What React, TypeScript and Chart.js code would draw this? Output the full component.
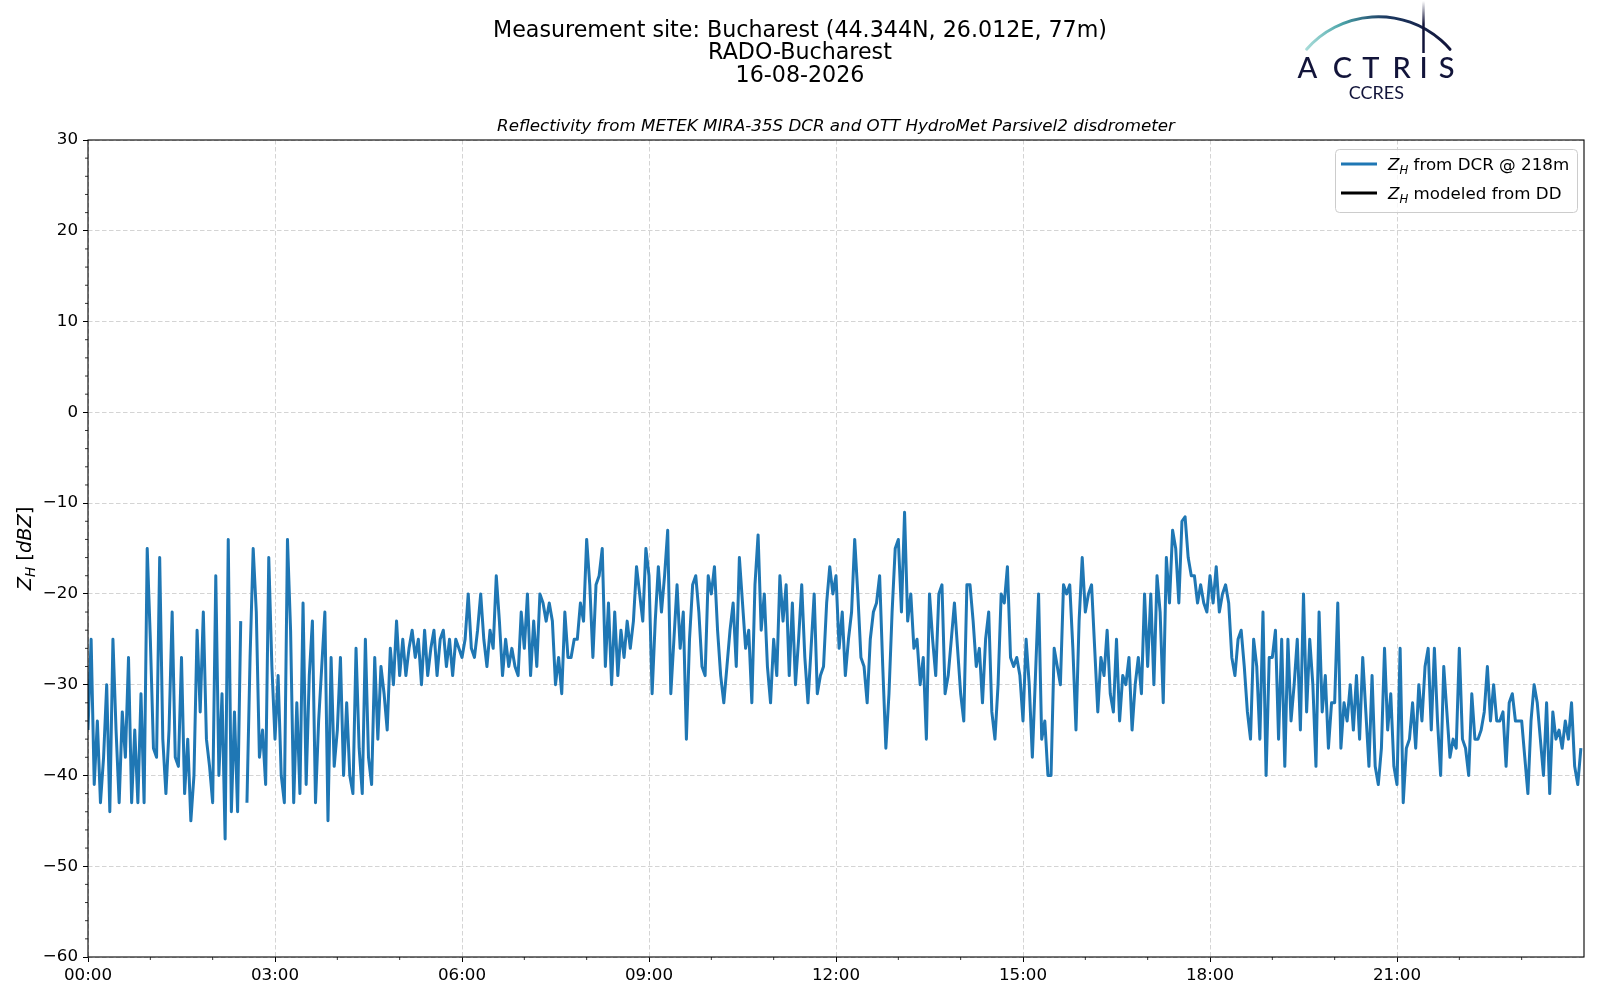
import { useEffect, useRef } from 'react';
import Chart from 'chart.js/auto';

// ---- text ----
const titleLines = [
  'Measurement site: Bucharest (44.344N, 26.012E, 77m)',
  'RADO-Bucharest',
  '16-08-2026',
];
const subtitle = 'Reflectivity from METEK MIRA-35S DCR and OTT HydroMet Parsivel2 disdrometer';
const seriesNames = ['from DCR @ 218m', 'modeled from DD'];
const seriesColors = ['#1f77b4', '#000000'];

// ---- axes ----
const xMajorHours = [0, 3, 6, 9, 12, 15, 18, 21];
const yMajorTicks = [-60, -50, -40, -30, -20, -10, 0, 10, 20, 30];
const stepMinutes = 3;

// ---- Z_H from DCR, one array per hour, a value every 3 minutes (dBZ) ----
const zh00 = [-35, -25, -41, -34, -43, -38, -30, -44, -25, -35, -43, -33, -38, -27, -43, -35, -43, -31, -43, -15];
const zh01 = [-25, -37, -38, -16, -36, -42, -35, -22, -38, -39, -27, -42, -36, -45, -40, -24, -33, -22, -36, -39];
const zh02 = [-43, -18, -40, -31, -47, -14, -44, -33, -44, -23, null, -43, -27, -15, -22, -38, -35, -41, -16, -28];
const zh03 = [-36, -29, -40, -43, -14, -24, -43, -32, -42, -21, -41, -29, -23, -43, -34, -28, -22, -45, -27, -39];
const zh04 = [-35, -27, -40, -32, -40, -42, -26, -37, -42, -25, -38, -41, -27, -36, -28, -31, -35, -26, -30, -23];
const zh05 = [-29, -25, -29, -26, -24, -27, -25, -30, -24, -29, -26, -24, -29, -25, -24, -28, -25, -29, -25, -26];
const zh06 = [-27, -25, -20, -26, -27, -24, -20, -25, -28, -24, -26, -18, -23, -29, -25, -28, -26, -28, -29, -22];
const zh07 = [-26, -20, -29, -23, -28, -20, -21, -23, -21, -23, -30, -27, -31, -22, -27, -27, -25, -25, -21, -23];
const zh08 = [-14, -19, -27, -19, -18, -15, -28, -21, -30, -22, -29, -24, -27, -23, -26, -23, -17, -20, -23, -15];
const zh09 = [-18, -31, -23, -17, -22, -18, -13, -31, -25, -19, -26, -22, -36, -25, -19, -18, -22, -28, -29, -18];
const zh10 = [-20, -17, -24, -29, -32, -28, -24, -21, -28, -16, -21, -26, -24, -32, -19, -13.5, -24, -20, -28, -32];
const zh11 = [-25, -29, -18, -23, -19, -29, -21, -30, -25, -19, -27, -32, -26, -20, -31, -29, -28, -21, -17, -20];
const zh12 = [-18, -26, -22, -29, -25, -22, -14, -20, -27, -28, -32, -25, -22, -21, -18, -28, -37, -31, -22, -15];
const zh13 = [-14, -22, -11, -23, -20, -26, -25, -30, -27, -36, -20, -25, -29, -20, -19, -31, -29, -25, -21, -26];
const zh14 = [-31, -34, -19, -19, -23, -28, -26, -32, -25, -22, -33, -36, -30, -20, -21, -17, -27, -28, -27, -29];
const zh15 = [-34, -25, -30, -38, -29, -20, -36, -34, -40, -40, -26, -28, -30, -19, -20, -19, -26, -35, -23, -16];
const zh16 = [-22, -20, -19, -26, -33, -27, -29, -24, -31, -33, -25, -34, -29, -30, -27, -35, -30, -27, -31, -20];
const zh17 = [-28, -20, -30, -18, -22, -32, -16, -21, -13, -15, -21, -12, -11.5, -16, -18, -18, -21, -19, -21, -22];
const zh18 = [-18, -21, -17, -22, -20, -19, -21, -27, -29, -25, -24, -28, -33, -36, -25, -28, -36, -22, -40, -27];
const zh19 = [-27, -24, -36, -25, -39, -25, -34, -30, -25, -35, -20, -33, -25, -30, -39, -22, -33, -29, -37, -32];
const zh20 = [-32, -21, -37, -32, -34, -30, -35, -29, -36, -27, -33, -39, -29, -39, -41, -37, -26, -35, -31, -39];
const zh21 = [-41, -26, -43, -37, -36, -32, -37, -30, -34, -28, -26, -35, -26, -34, -40, -28, -33, -38, -36, -37];
const zh22 = [-26, -36, -37, -40, -31, -36, -36, -35, -33, -28, -34, -30, -34, -34, -33, -39, -32, -31, -34, -34];
const zh23 = [-34, -38, -42, -34, -30, -32, -36, -40, -32, -42, -33, -36, -35, -37, -34, -36, -32, -39, -41, -37];

const zhDcr = [
  zh00, zh01, zh02, zh03, zh04, zh05, zh06, zh07, zh08, zh09, zh10, zh11,
  zh12, zh13, zh14, zh15, zh16, zh17, zh18, zh19, zh20, zh21, zh22, zh23,
].flat();

const FONT = '"DejaVu Sans", sans-serif';
const TICK_SIZE = 16.7;

type Run = { text: string; italic?: boolean; sub?: boolean };

function runFont(r: Run, size: number) {
  const s = r.sub ? size * 0.7 : size;
  return `${r.italic ? 'italic ' : ''}${s}px ${FONT}`;
}

function runsWidth(ctx: CanvasRenderingContext2D, runs: Run[], size: number) {
  let w = 0;
  for (const r of runs) {
    ctx.font = runFont(r, size);
    w += ctx.measureText(r.text).width;
  }
  return w;
}

function drawRuns(ctx: CanvasRenderingContext2D, runs: Run[], x: number, y: number, size: number) {
  let cx = x;
  ctx.textAlign = 'left';
  ctx.textBaseline = 'alphabetic';
  for (const r of runs) {
    ctx.font = runFont(r, size);
    ctx.fillText(r.text, cx, r.sub ? y + size * 0.22 : y);
    cx += ctx.measureText(r.text).width;
  }
}

const zhRuns = (rest: string): Run[] => [
  { text: 'Z', italic: true },
  { text: 'H', italic: true, sub: true },
  { text: ' ' + rest },
];

function drawLogo(ctx: CanvasRenderingContext2D) {
  const navy = '#12143a';
  // arc
  const cx = 1378.3, cy = 111.9, r = 95.2;
  const a0 = Math.atan2(49.3 - cy, 1306.7 - cx);
  const a1 = Math.atan2(49.3 - cy, 1450 - cx);
  const g = ctx.createLinearGradient(1306, 0, 1450, 0);
  g.addColorStop(0, 'rgba(108,195,190,0.6)');
  g.addColorStop(0.25, '#4aa3a8');
  g.addColorStop(0.55, '#1d3a62');
  g.addColorStop(1, navy);
  ctx.strokeStyle = g;
  ctx.lineWidth = 3;
  ctx.lineCap = 'round';
  ctx.beginPath();
  ctx.arc(cx, cy, r, a0, a1);
  ctx.stroke();
  // mast
  const gv = ctx.createLinearGradient(0, 1, 0, 24);
  gv.addColorStop(0, 'rgba(18,20,58,0)');
  gv.addColorStop(1, navy);
  ctx.strokeStyle = gv;
  ctx.lineWidth = 2.5;
  ctx.lineCap = 'butt';
  ctx.beginPath();
  ctx.moveTo(1423.5, 1);
  ctx.lineTo(1423.5, 53);
  ctx.stroke();
  // letters
  ctx.fillStyle = navy;
  ctx.textAlign = 'center';
  ctx.textBaseline = 'alphabetic';
  ctx.font = '500 29px Lato, sans-serif';
  const letters = ['A', 'C', 'T', 'R', 'I', 'S'];
  const centers = [1307.5, 1342.5, 1370.8, 1401.7, 1423.7, 1446.7];
  letters.forEach((l, i) => ctx.fillText(l, centers[i], 78.3));
  ctx.font = '18px Lato, sans-serif';
  ctx.fillText('CCRES', 1376.3, 99);
}

const chromePlugin = {
  id: 'chrome',
  afterDraw(chart: any) {
    const { ctx, chartArea: a, scales } = chart;
    ctx.save();

    // frame on all four sides
    ctx.strokeStyle = '#000';
    ctx.lineWidth = 1.1;
    ctx.strokeRect(a.left, a.top, a.right - a.left, a.bottom - a.top);

    // minor ticks
    ctx.lineWidth = 0.8;
    ctx.beginPath();
    for (let v = -60; v <= 30; v += 2) {
      if (v % 10 === 0) continue;
      const p = scales.y.getPixelForValue(v);
      ctx.moveTo(a.left - 3, p);
      ctx.lineTo(a.left, p);
    }
    for (let h = 1; h < 24; h++) {
      if (h % 3 === 0) continue;
      const p = scales.x.getPixelForValue(h);
      ctx.moveTo(p, a.bottom);
      ctx.lineTo(p, a.bottom + 3);
    }
    ctx.stroke();

    // titles
    ctx.fillStyle = '#000';
    ctx.textAlign = 'center';
    ctx.textBaseline = 'alphabetic';
    ctx.font = `22.2px ${FONT}`;
    titleLines.forEach((t, i) => ctx.fillText(t, 800, 36.5 + i * 22.8));
    ctx.font = `italic 16.7px ${FONT}`;
    ctx.fillText(subtitle, (a.left + a.right) / 2, 131);

    // y label
    const yRuns: Run[] = [
      { text: 'Z', italic: true },
      { text: 'H', italic: true, sub: true },
      { text: ' [' },
      { text: 'dBZ', italic: true },
      { text: ']' },
    ];
    const ySize = 19.4;
    const yw = runsWidth(ctx, yRuns, ySize);
    ctx.save();
    ctx.translate(24, (a.top + a.bottom) / 2);
    ctx.rotate(-Math.PI / 2);
    drawRuns(ctx, yRuns, -yw / 2, 7, ySize);
    ctx.restore();

    // legend
    const lx = 1335.5, ly = 149.5, lw = 242, lh = 63;
    ctx.beginPath();
    ctx.roundRect(lx, ly, lw, lh, 4);
    ctx.fillStyle = 'rgba(255,255,255,0.8)';
    ctx.fill();
    ctx.strokeStyle = '#cccccc';
    ctx.lineWidth = 1;
    ctx.stroke();
    seriesNames.forEach((name, i) => {
      const yy = 164 + i * 29;
      ctx.strokeStyle = seriesColors[i];
      ctx.lineWidth = 2.8;
      ctx.beginPath();
      ctx.moveTo(1341, yy);
      ctx.lineTo(1377, yy);
      ctx.stroke();
      ctx.fillStyle = '#000';
      drawRuns(ctx, zhRuns(name), 1388, yy + 6, 16.7);
    });

    drawLogo(ctx);
    ctx.restore();
  },
};

const fmtHour = (v: number) => `${String(v).padStart(2, '0')}:00`;
const fmtY = (v: number) => (v < 0 ? '\u2212' + Math.abs(v) : String(v));

const ReflectivityChart = () => {
  const canvasRef = useRef<HTMLCanvasElement | null>(null);
  const chartRef = useRef<Chart | null>(null);

  useEffect(() => {
    if (chartRef.current) chartRef.current.destroy();
    const ctx = canvasRef.current!.getContext('2d')!;

    const points = zhDcr.map((v, i) => ({ x: (i * stepMinutes) / 60, y: v }));

    const tickFont = { family: FONT, size: TICK_SIZE };
    const grid = {
      color: 'rgba(176,176,176,0.55)',
      lineWidth: 1,
      drawTicks: true,
      tickLength: 5,
      tickColor: '#000',
      tickWidth: 1,
      tickBorderDash: [],
    };

    chartRef.current = new Chart(ctx, {
      type: 'line',
      data: {
        datasets: [
          {
            label: 'ZH from DCR @ 218m',
            data: points,
            borderColor: seriesColors[0],
            borderWidth: 3,
            borderJoinStyle: 'round',
            pointRadius: 0,
            tension: 0,
            spanGaps: false,
          },
          {
            label: 'ZH modeled from DD',
            data: [],
            borderColor: seriesColors[1],
            borderWidth: 2.8,
            pointRadius: 0,
          },
        ],
      },
      options: {
        animation: false,
        responsive: false,
        devicePixelRatio: 1,
        layout: { padding: { top: 140, right: 16, bottom: 0, left: 0 } },
        plugins: {
          legend: { display: false },
          tooltip: { enabled: false },
        },
        scales: {
          x: {
            type: 'linear',
            min: 0,
            max: 24,
            afterFit: (s: any) => { s.height = 43; },
            afterBuildTicks: (s: any) => {
              s.ticks = xMajorHours.map((h) => ({ value: h }));
            },
            ticks: {
              autoSkip: false,
              maxRotation: 0,
              padding: 4,
              color: '#000',
              font: tickFont,
              callback: (v: any) => fmtHour(Number(v)),
            },
            grid,
            border: { display: false, dash: [4.5, 2.5] },
          },
          y: {
            min: -60,
            max: 30,
            afterFit: (s: any) => { s.width = 88; },
            afterBuildTicks: (s: any) => {
              s.ticks = yMajorTicks.map((v) => ({ value: v }));
            },
            ticks: {
              padding: 5,
              color: '#000',
              font: tickFont,
              callback: (v: any) => fmtY(Number(v)),
            },
            grid,
            border: { display: false, dash: [4.5, 2.5] },
          },
        },
      },
      plugins: [chromePlugin],
    } as any);

    return () => {
      if (chartRef.current) {
        chartRef.current.destroy();
        chartRef.current = null;
      }
    };
  }, []);

  return <canvas ref={canvasRef} width={1600} height={1000} style={{ width: 1600, height: 1000, display: 'block' }} />;
};

export default function App() {
  return (
    <div style={{ position: 'absolute', left: 0, top: 0, width: 1600, height: 1000, background: '#fff' }}>
      <ReflectivityChart />
    </div>
  );
}
